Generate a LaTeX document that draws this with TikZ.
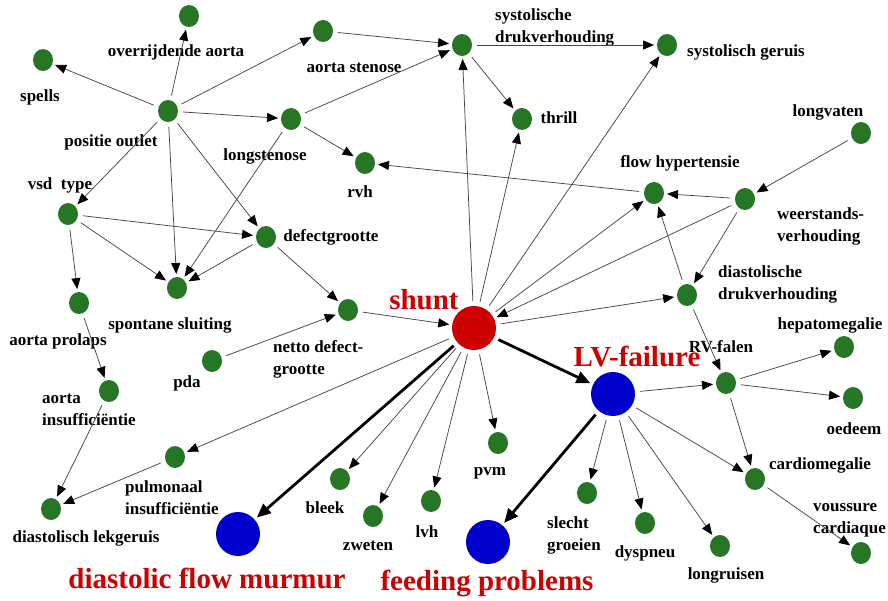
\documentclass[tikz,border=0pt]{standalone}
\usepackage{fontspec}
\setmainfont{Liberation Serif}
\usetikzlibrary{arrows.meta,shapes.geometric}
\definecolor{gnode}{RGB}{38,118,38}
\definecolor{rnode}{RGB}{204,0,0}
\definecolor{bnode}{RGB}{0,0,204}
\tikzset{
  gn/.style={ellipse,fill=gnode,minimum width=20pt,minimum height=22pt,inner sep=0pt,outer sep=3pt},
  bign/.style={circle,minimum size=44pt,inner sep=0pt,outer sep=3pt},
  lbl/.style={inner sep=0pt,font=\bfseries\fontsize{17}{22}\selectfont},
  lblL/.style={lbl,align=left,anchor=west},
  biglbl/.style={inner sep=0pt,text=rnode,font=\bfseries\fontsize{29}{32}\selectfont},
  edge/.style={draw=black!72,line width=0.75pt,shorten <=2pt,-{Triangle[length=11pt,width=9pt,color=black]}},
  thick edge/.style={draw=black,line width=2.8pt,shorten <=2pt,-{Triangle[length=14pt,width=12pt,color=black]}}
}
\begin{document}
\begin{tikzpicture}[x=1pt,y=-1pt]
\path[use as bounding box,fill=white] (0,0) rectangle (888,600);

% green nodes
\node[gn] (ovr) at (189,16) {};
\node[gn] (spl) at (43,60) {};
\node[gn] (ast) at (323,31) {};
\node[gn] (sdr) at (462,45) {};
\node[gn] (sge) at (667,45) {};
\node[gn] (pos) at (168,111) {};
\node[gn] (lst) at (291,119) {};
\node[gn] (thr) at (522,119) {};
\node[gn] (rvh) at (365,163) {};
\node[gn] (lgv) at (861,133) {};
\node[gn] (fhy) at (654,193) {};
\node[gn] (wst) at (745,199) {};
\node[gn] (vsd) at (68,214) {};
\node[gn] (dfg) at (266,237) {};
\node[gn] (sps) at (177,288) {};
\node[gn] (apr) at (79,303) {};
\node[gn] (ndg) at (348,310) {};
\node[gn] (ddr) at (687,295) {};
\node[gn] (pda) at (212,361) {};
\node[gn] (ains) at (109,391) {};
\node[gn] (hep) at (844,347) {};
\node[gn] (rvf) at (726,383) {};
\node[gn] (oed) at (853,398) {};
\node[gn] (pins) at (175,457) {};
\node[gn] (dlk) at (51,509) {};
\node[gn] (blk) at (340,479) {};
\node[gn] (zwe) at (373,516) {};
\node[gn] (lvh) at (431,501) {};
\node[gn] (pvm) at (498,443) {};
\node[gn] (slg) at (587,493) {};
\node[gn] (dys) at (645,523) {};
\node[gn] (lgr) at (720,546) {};
\node[gn] (cmg) at (755,479) {};
\node[gn] (vou) at (861,553) {};

% big nodes
\node[bign,fill=rnode] (shunt) at (474,328) {};
\node[bign,fill=bnode] (lvf) at (613,394) {};
\node[bign,fill=bnode] (dfm) at (238,534) {};
\node[bign,fill=bnode] (fdp) at (488,542) {};

% labels
\node[lbl] (l-ovr) at (176,52) {overrijdende aorta};
\node[lbl] (l-spl) at (40,97) {spells};
\node[lbl] (l-ast) at (354,68) {aorta stenose};
\node[lblL] (l-sdr) at (495,27.5) {systolische\\drukverhouding};
\node[lbl] (l-sge) at (746,52) {systolisch geruis};
\node[lbl] (l-pos) at (111,142) {positie outlet};
\node[lbl] (l-lst) at (265,156) {longstenose};
\node[lbl] (l-thr) at (559,118) {thrill};
\node[lbl] (l-rvh) at (360,192) {rvh};
\node[lbl] (l-lgv) at (828,112) {longvaten};
\node[lbl] (l-fhy) at (680,163) {flow hypertensie};
\node[lblL] (l-wst) at (777,226) {weerstands-\\verhouding};
\node[lbl] (l-vsd) at (60,185) {vsd\ \ type};
\node[lbl] (l-dfg) at (331,237) {defectgrootte};
\node[lbl] (l-sps) at (170,325) {spontane sluiting};
\node[lbl] (l-apr) at (58,341) {aorta prolaps};
\node[lblL] (l-ndg) at (273,359) {netto defect-\\grootte};
\node[lblL] (l-ddr) at (718,284.5) {diastolische\\drukverhouding};
\node[lbl] (l-pda) at (187,383) {pda};
\node[lblL] (l-ains) at (42,410) {aorta\\insufficiëntie};
\node[lbl] (l-hep) at (830,325) {hepatomegalie};
\node[lbl] (l-rvf) at (721,347) {RV-falen};
\node[lbl] (l-oed) at (854,429) {oedeem};
\node[lblL] (l-pins) at (125,498) {pulmonaal\\insufficiëntie};
\node[lbl] (l-dlk) at (86,538) {diastolisch lekgeruis};
\node[lbl] (l-blk) at (325,508) {bleek};
\node[lbl] (l-zwe) at (368,546) {zweten};
\node[lbl] (l-lvh) at (427,532) {lvh};
\node[lbl] (l-pvm) at (490,473) {pvm};
\node[lblL] (l-slg) at (547,535) {slecht\\groeien};
\node[lbl] (l-dys) at (645,553) {dyspneu};
\node[lbl] (l-lgr) at (726,575) {longruisen};
\node[lbl] (l-cmg) at (820,465) {cardiomegalie};
\node[lblL] (l-vou) at (813,520) {voussure\\cardiaque};
\node[biglbl] (l-shunt) at (424,300) {shunt};
\node[biglbl] (l-lvf) at (637,357) {LV-failure};
\node[biglbl] (l-dfm) at (207,578) {diastolic flow murmur};
\node[biglbl] (l-fdp) at (487,583) {feeding problems};

% edges
\draw[edge] (pos) -- (spl);
\draw[edge] (pos) -- (ovr);
\draw[edge] (pos) -- (ast);
\draw[edge] (pos) -- (lst);
\draw[edge] (pos) -- (vsd);
\draw[edge] (pos) -- (sps);
\draw[edge] (pos) -- (dfg);
\draw[edge] (ast) -- (sdr);
\draw[edge] (lst) -- (sdr);
\draw[edge] (lst) -- (rvh);
\draw[edge] (lst) -- (sps);
\draw[edge] (sdr) -- (sge);
\draw[edge] (sdr) -- (thr);
\draw[edge] (shunt) -- (sdr);
\draw[edge] (shunt) -- (thr);
\draw[edge] (shunt) -- (sge);
\draw[edge] (fhy) -- (rvh);
\draw[edge] (wst) -- (fhy);
\draw[edge] (lgv) -- (wst);
\draw[edge] (wst) -- (ddr);
\draw[edge] (wst) -- (shunt);
\draw[edge] (shunt) -- (fhy);
\draw[edge] (ddr) -- (fhy);
\draw[edge] (shunt) -- (ddr);
\draw[edge] (ddr) -- (rvf);
\draw[edge] (ndg) -- (shunt);
\draw[edge] (dfg) -- (ndg);
\draw[edge] (pda) -- (ndg);
\draw[edge] (vsd) -- (dfg);
\draw[edge] (vsd) -- (sps);
\draw[edge] (vsd) -- (apr);
\draw[edge] (dfg) -- (sps);
\draw[edge] (apr) -- (ains);
\draw[edge] (ains) -- (dlk);
\draw[edge] (shunt) -- (pins);
\draw[edge] (pins) -- (dlk);
\draw[edge] (shunt) -- (blk);
\draw[edge] (shunt) -- (zwe);
\draw[edge] (shunt) -- (lvh);
\draw[edge] (shunt) -- (pvm);
\draw[thick edge] (shunt) -- (dfm);
\draw[thick edge] (shunt) -- (lvf);
\draw[thick edge] (lvf) -- (fdp);
\draw[edge] (lvf) -- (rvf);
\draw[edge] (lvf) -- (slg);
\draw[edge] (lvf) -- (dys);
\draw[edge] (lvf) -- (lgr);
\draw[edge] (lvf) -- (cmg);
\draw[edge] (rvf) -- (hep);
\draw[edge] (rvf) -- (oed);
\draw[edge] (rvf) -- (cmg);
\draw[edge] (cmg) -- (vou);
\end{tikzpicture}
\end{document}
